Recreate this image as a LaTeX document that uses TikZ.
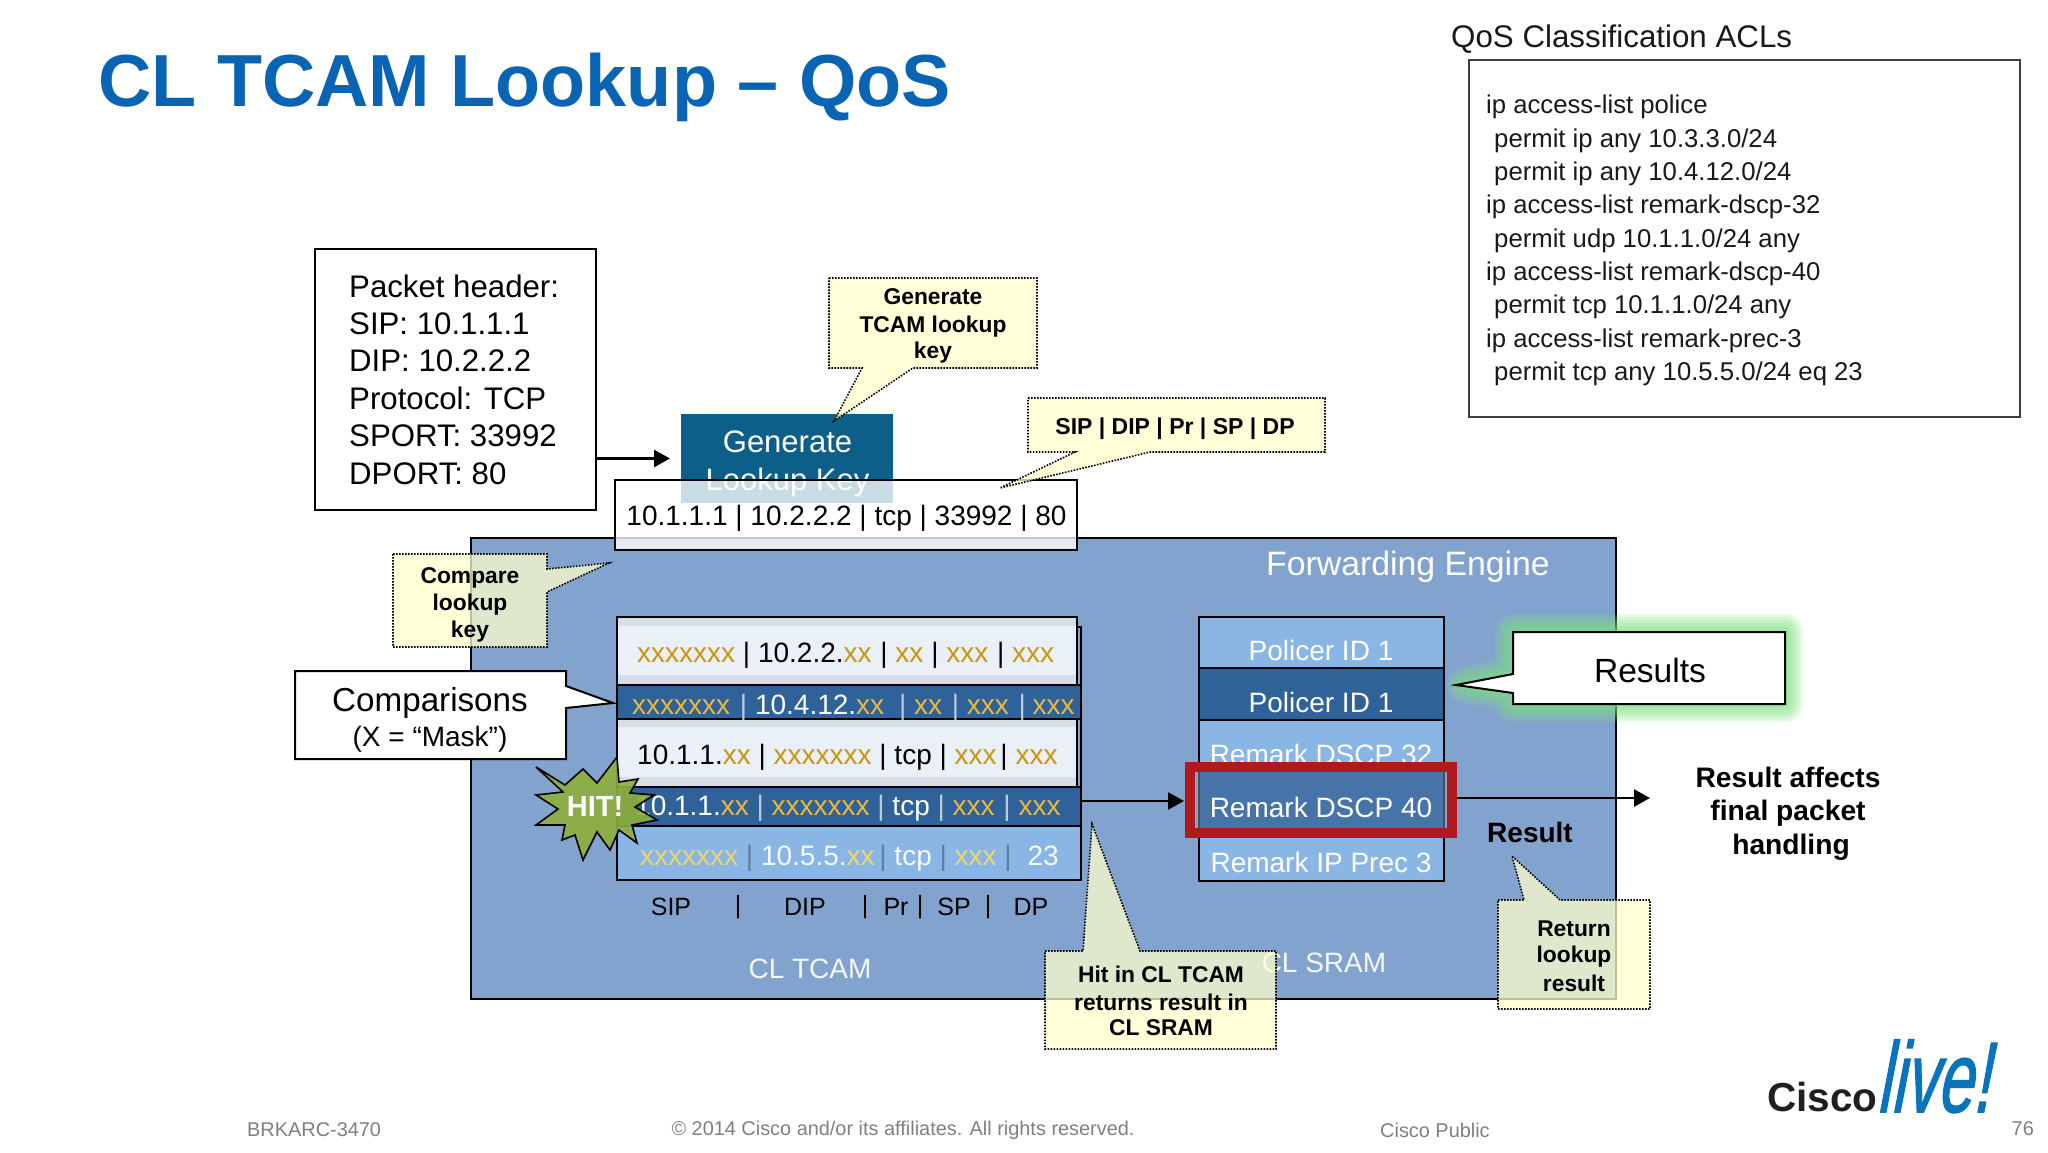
\documentclass[tikz,border=0pt]{standalone}
\usepackage{fontspec}
\setmainfont{Liberation Sans}
\newfontfamily\livefont[FakeSlant=.3,FakeBold=1.5]{Liberation Sans}
\usetikzlibrary{arrows.meta,calc}
\definecolor{febg}{HTML}{83A3CF}
\definecolor{darkrow}{HTML}{2F6299}
\definecolor{lightrow}{HTML}{8AB6E6}
\definecolor{paperow}{HTML}{E9F0F8}
\definecolor{paleband}{HTML}{D6DDE9}
\definecolor{teal}{HTML}{0B5F88}
\definecolor{notey}{HTML}{FFFFCC}
\definecolor{titleblue}{HTML}{0A64B4}
\definecolor{mka}{HTML}{CC9410}
\definecolor{mkb}{HTML}{EAB93A}
\definecolor{mkc}{HTML}{EFD56E}
\definecolor{sepl}{HTML}{BCCBDC}
\definecolor{sepm}{HTML}{5F7F9F}
\definecolor{foot}{HTML}{808080}
\definecolor{redb}{HTML}{B01A1E}
\definecolor{hitg}{HTML}{8FAE3C}
\definecolor{glowg}{HTML}{7FE07F}
\newcommand\fs[1]{\fontsize{#1}{#1}\selectfont}
\newcommand\mA[1]{\textcolor{mka}{#1}}
\newcommand\mB[1]{\textcolor{mkb}{#1}}
\newcommand\mC[1]{\textcolor{mkc}{#1}}
\newcommand\sL{\textcolor{sepl}{|}}
\newcommand\sM{\textcolor{sepm}{|}}
\newcommand\boxnode[6][]{\node[inner sep=0pt,outer sep=0pt,minimum width={#4-#2},minimum height={#5-#3},#1] (#6) at ({(#2+#4)/2},{(#3+#5)/2}) {};}
\tikzset{
  edge/.style={draw=black,line width=2pt},
  note/.style={draw=black,line width=1.6pt,dash pattern=on 1.6pt off 1.4pt,fill=notey,fill opacity=.75,line join=miter},
  notetext/.style={font=\fs{22.8}\bfseries,align=center,inner sep=0pt,text=black},
  rowtext/.style={font=\fs{28},anchor=west,inner sep=0pt},
  coltext/.style={font=\fs{25},inner sep=0pt,text=black},
  srtext/.style={font=\fs{28},text=white,inner sep=0pt},
  foottext/.style={font=\fs{19.9},text=foot,inner sep=0pt},
  arr/.style={line width=2.6pt,-{Triangle[length=16pt,width=17pt]}},
  callbox/.style={draw=black,line width=2pt,fill=white,line join=miter},
  acl/.style={font=\fs{25.7},anchor=west,inner sep=0pt,text=black!90}
}
\begin{document}
\begin{tikzpicture}[x=1pt,y=-1pt]
\useasboundingbox (0,0) rectangle (2048,1153);
\fill[white] (0,0) rectangle (2048,1153);
% title
\node[font=\fs{73.8}\bfseries,text=titleblue,anchor=west,inner sep=0pt] (title) at (98,87) {CL TCAM Lookup – QoS};
% ACL panel
\node[font=\fs{31.3},anchor=west,inner sep=0pt,text=black!90] (acltitle) at (1451,39.5) {QoS Classification ACLs};
\boxnode[draw=black!75,line width=1.8pt,fill=white]{1469}{60}{2020}{417}{aclbox}
\node[acl] (al1) at (1486,107) {ip access-list police};
\node[acl] (al2) at (1494,140.5) {permit ip any 10.3.3.0/24};
\node[acl] (al3) at (1494,173.5) {permit ip any 10.4.12.0/24};
\node[acl] (al4) at (1486,207) {ip access-list remark-dscp-32};
\node[acl] (al5) at (1494,240.5) {permit udp 10.1.1.0/24 any};
\node[acl] (al6) at (1486,273.5) {ip access-list remark-dscp-40};
\node[acl] (al7) at (1494,307) {permit tcp 10.1.1.0/24 any};
\node[acl] (al8) at (1486,340.5) {ip access-list remark-prec-3};
\node[acl] (al9) at (1494,373.5) {permit tcp any 10.5.5.0/24 eq 23};
% forwarding engine
\boxnode[edge,fill=febg]{471}{538}{1616}{999}{fe}
\node[font=\fs{33.8},text=white,inner sep=0pt] (fetitle) at (1408,566.5) {Forwarding Engine};
% packet header
\boxnode[edge,fill=white]{315}{249}{596}{510}{pkt}
\node[font=\fs{31.2},anchor=west,inner sep=0pt] (p1) at (349,286) {Packet header:};
\node[font=\fs{31.2},anchor=west,inner sep=0pt] (p2) at (349,323.5) {SIP: 10.1.1.1};
\node[font=\fs{31.2},anchor=west,inner sep=0pt] (p3) at (349,361) {DIP: 10.2.2.2};
\node[font=\fs{31.2},anchor=west,inner sep=0pt] (p4) at (349,398.5) {Protocol: TCP};
\node[font=\fs{31.2},anchor=west,inner sep=0pt] (p5) at (349,436) {SPORT: 33992};
\node[font=\fs{31.2},anchor=west,inner sep=0pt] (p6) at (349,473.5) {DPORT: 80};
% generate lookup key
\boxnode[fill=teal]{681}{414}{893}{503}{gen}
\node[font=\fs{31},text=white,inner sep=0pt] (g1) at (787.5,442) {Generate};
\node[font=\fs{31},text=white,inner sep=0pt] (g2) at (787.5,482) {Lookup Key};
\draw[arr] (pkt.east|-gen.west) -- ([xshift=-11pt]gen.west);
% key box
\boxnode[edge,fill=white,fill opacity=.78]{615}{480}{1077}{550}{key}
\node[font=\fs{28},inner sep=0pt,text=black] (keytext) at (846.5,518.5) {10.1.1.1 | 10.2.2.2 | tcp | 33992 | 80};
% TCAM rows
\draw[line width=1.8pt,black] (1078,627) -- (1081,627) -- (1081,787);
\boxnode[edge,fill=paperow]{617}{617}{1077}{685}{rowa}
\fill[paleband] (618,618) rectangle (1076,626);
\fill[paleband] (618,675) rectangle (1076,684);
\boxnode[edge,fill=darkrow]{617}{685}{1081}{719}{rowb}
\boxnode[edge,fill=paperow]{617}{719}{1077}{787}{rowc}
\fill[paleband] (618,720) rectangle (1076,727);
\fill[paleband] (618,777) rectangle (1076,786);
\boxnode[edge,fill=darkrow]{617}{787}{1081}{826}{rowd}
\boxnode[edge,fill=lightrow]{617}{826}{1081}{880}{rowe}
\node[rowtext,text=black] (ta) at (637,655.5) {\mA{xxxxxxx} | 10.2.2.\mA{xx}\hspace{1pt} | \mA{xx} | \mA{xxx}\hspace{1pt} | \mA{xxx}};
\node[rowtext,text=white] (tb) at (632,707.5) {\mB{xxxxxxx}\hspace{2pt} \sL\ 10.4.12.\mB{xx}\hspace{7pt} \sL\ \mB{xx}\hspace{2pt} \sL\ \mB{xxx}\hspace{2pt} \sL\ \hspace{-1pt}\mB{xxx}};
\node[rowtext,text=black] (tc) at (637,757.5) {10.1.1.\mA{xx} | \mA{xxxxxxx} | tcp | \mA{xxx}\hspace{-4pt} | \mA{xxx}};
\node[rowtext,text=white] (td) at (635,808.5) {10.1.1.\mB{xx} \sL\ \mB{xxxxxxx} \sL\ tcp \sL\ \mB{xxx}\hspace{1pt} \sL\ \mB{xxx}};
\node[rowtext,text=white!92!lightrow] (te) at (640,858) {\mC{xxxxxxx} \sM\ 10.5.5.\mC{xx}\hspace{-3pt} \sM\ tcp \sM\ \mC{xxx} \sM\ \hspace{8pt}23};
% column labels
\node[coltext] (c1) at (671,907) {SIP};
\node[coltext] (c2) at (738,907) {|};
\node[coltext] (c3) at (805,907) {DIP};
\node[coltext] (c4) at (865,907) {|};
\node[coltext] (c5) at (896,907) {Pr};
\node[coltext] (c6) at (920,907) {|};
\node[coltext] (c7) at (954,907) {SP};
\node[coltext] (c8) at (988,907) {|};
\node[coltext] (c9) at (1031,907) {DP};
\node[font=\fs{28},text=white!92!febg,inner sep=0pt] (cltcam) at (810,968.5) {CL TCAM};
% SRAM rows
\boxnode[edge,fill=lightrow]{1199}{617}{1444}{668}{sa}
\boxnode[edge,fill=darkrow]{1199}{668}{1444}{720}{sb}
\boxnode[edge,fill=lightrow]{1199}{720}{1444}{771}{sc}
\boxnode[edge,fill=lightrow]{1199}{829}{1444}{881}{se}
\node[srtext] (sta) at (1321,650) {Policer ID 1};
\node[srtext] (stb) at (1321,702) {Policer ID 1};
\node[srtext] (stc) at (1321,754) {Remark DSCP 32};
\boxnode[draw=black!70,line width=2pt,fill=darkrow!72!febg]{1199}{771}{1444}{829}{sd}
\node[srtext] (std) at (1321,807) {Remark DSCP 40};
\node[srtext] (ste) at (1321,862) {Remark IP Prec 3};
\node[font=\fs{28},text=white!92!febg,inner sep=0pt] (clsram) at (1324,963) {CL SRAM};
% arrows to/from result
\coordinate (hitin) at (1184,801);
\coordinate (resout) at (1457,798);
\coordinate (restip) at (1650,798);
\draw[arr] (rowd.east|-hitin) -- (hitin);
\boxnode[draw=redb,line width=10pt]{1190}{767}{1452}{833}{redbox}
\draw[arr] (resout) -- (restip);
% results callout with glow
\foreach \w in {36,30,24,18,12,8}
  \draw[draw=glowg,line width=\w pt,opacity=.18,line join=round] (1513,632) -- (1785,632) -- (1785,704) -- (1513,704) -- (1513,693) -- (1465,685) -- (1513,674) -- cycle;
\draw[callbox] (1513,632) -- (1785,632) -- (1785,704) -- (1513,704) -- (1513,693) -- (1456,685) -- (1513,674) -- cycle;
\node[font=\fs{33.6},inner sep=0pt] (resultstext) at (1650,670) {Results};
% comparisons callout
\draw[callbox] (295,671) -- (566,671) -- (566,686) -- (613,703) -- (566,708) -- (566,759) -- (295,759) -- cycle;
\node[font=\fs{33.2},inner sep=0pt] (cmp) at (430,702.5) {Comparisons};
\node[font=\fs{28},inner sep=0pt] (mask) at (430,739.5) {(X = “Mask”)};
% hit star
\draw[draw=black,line width=1.6pt,fill=hitg,fill opacity=.9,line join=miter]
 (536,767) -- (565,785) -- (583,769) -- (597,783) -- (617,757) -- (619,782) -- (638,779) -- (630,793) -- (654,795) -- (635,807) -- (657,820) -- (632,825) -- (637,843) -- (619,830) -- (610,850) -- (597,832) -- (583,860) -- (575,835) -- (562,840) -- (565,825) -- (536,825) -- (558,809) -- (536,795) -- (563,792) -- cycle;
\node[font=\fs{29}\bfseries,text=white,inner sep=0pt] (hit) at (595,807) {HIT!};
% result labels
\node[font=\fs{28}\bfseries,inner sep=0pt] (reslabel) at (1530,832) {Result};
\node[font=\fs{28.2}\bfseries,inner sep=0pt,align=center] (aff1) at (1788,777) {Result affects};
\node[font=\fs{28.2}\bfseries,inner sep=0pt] (aff2) at (1788,813.5) {final packet};
\node[font=\fs{28.2}\bfseries,inner sep=0pt] (aff3) at (1791,847.5) {handling};
% dotted notes
\draw[note] (829,278) -- (1037,278) -- (1037,368) -- (913,368) -- (834,421) -- (862,368) -- (829,368) -- cycle;
\node[notetext] (n1a) at (933,297) {Generate};
\node[notetext] (n1b) at (933,326.5) {TCAM lookup};
\node[notetext] (n1c) at (933,353) {key};
\draw[note] (1028,398) -- (1325,398) -- (1325,452) -- (1150,452) -- (1000,488) -- (1075,452) -- (1028,452) -- cycle;
\node[notetext,font=\fs{23}\bfseries] (n2) at (1175,428.5) {SIP | DIP | Pr | SP | DP};
\draw[note] (393,554) -- (547,554) -- (547,569) -- (609,563) -- (547,592) -- (547,647) -- (393,647) -- cycle;
\node[notetext] (n3a) at (470,577.5) {Compare};
\node[notetext] (n3b) at (470,604.5) {lookup};
\node[notetext] (n3c) at (470,631.5) {key};
\draw[note] (1045,951) -- (1083,951) -- (1092,824) -- (1140,951) -- (1276,951) -- (1276,1049) -- (1045,1049) -- cycle;
\node[notetext] (n4a) at (1161,974) {Hit in CL TCAM};
\node[notetext] (n4b) at (1161,1002) {returns result in};
\node[notetext] (n4c) at (1161,1028) {CL SRAM};
\draw[note] (1498,900) -- (1524,900) -- (1512,856) -- (1560,900) -- (1650,900) -- (1650,1009) -- (1498,1009) -- cycle;
\node[notetext] (n5a) at (1574,929) {Return};
\node[notetext] (n5b) at (1574,957) {lookup};
\node[notetext] (n5c) at (1574,983) {result};
% footer
\node[foottext,anchor=west] (f1) at (247,1130) {BRKARC-3470};
\node[foottext] (f2) at (903,1130) {© 2014 Cisco and/or its affiliates. All rights reserved.};
\node[foottext,anchor=west] (f3) at (1380,1130) {Cisco Public};
\node[foottext,anchor=east] (f4) at (2034,1129) {76};
% logo
\node[font=\fs{40.5}\bfseries,text=black!88,anchor=base west,inner sep=0pt] (cisco) at (1767,1111) {Cisco};
\node[font=\livefont\fs{82},text=titleblue!90!cyan,anchor=base west,inner sep=0pt,xscale=.78,yscale=1.22] (live) at (1876,1112) {live!};
\end{tikzpicture}
\end{document}
